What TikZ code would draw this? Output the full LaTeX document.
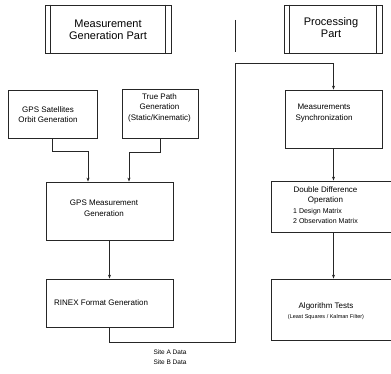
\documentclass[tikz,border=0pt]{standalone}
\usepackage{fontspec}
\setmainfont{Liberation Sans}
\usetikzlibrary{arrows.meta}
\begin{document}
\begin{tikzpicture}[x=1pt,y=-1pt,
  box/.style={draw=black!85, line width=0.8pt, inner sep=0pt, rectangle},
  txt/.style={font=\fontsize{8}{10.5}\selectfont, align=center, inner sep=0pt},
  ttl/.style={font=\fontsize{11}{12}\selectfont, align=center, inner sep=0pt},
  conn/.style={draw=black!85, line width=0.7pt},
  arr/.style={conn, -{Stealth[length=4pt,width=3pt]}}]
\useasboundingbox (0,0) rectangle (391,374);

% title boxes
\node[box, minimum width=126pt, minimum height=48pt] (t1) at (108,29) {};
\draw[conn] ([xshift=6pt]t1.north west) -- ([xshift=6pt]t1.south west);
\draw[conn] ([xshift=-6pt]t1.north east) -- ([xshift=-6pt]t1.south east);
\node[ttl] (t1t) at (108,30) {Measurement\\Generation Part};

\node[box, minimum width=98pt, minimum height=48pt] (t2) at (333,29) {};
\draw[conn] ([xshift=6pt]t2.north west) -- ([xshift=6pt]t2.south west);
\draw[conn] ([xshift=-6pt]t2.north east) -- ([xshift=-6pt]t2.south east);
\node[ttl] (t2t) at (331,28) {Processing\\Part};

% divider
\coordinate (d1) at (235,20);
\coordinate (d2) at (235,52);
\draw[conn] (d1) -- (d2);

% left column
\node[box, minimum width=89pt, minimum height=48pt] (gpss) at (52.5,114) {};
\node[txt] (gpsst) at (48,114.5) {GPS Satellites\\Orbit Generation};

\node[box, minimum width=76pt, minimum height=49pt] (truep) at (160,113.5) {};
\node[txt] (truept) at (159.5,107.5) {True Path\\Generation\\(Static/Kinematic)};

\node[box, minimum width=127pt, minimum height=58pt] (gpsm) at (109.5,211) {};
\node[txt] (gpsmt) at (104,208) {GPS Measurement\\Generation};

\node[box, minimum width=127pt, minimum height=48pt] (rinex) at (109.5,303) {};
\node[txt, anchor=west] (rinext) at (54,303) {RINEX Format Generation};

% right column
\node[box, minimum width=97pt, minimum height=58pt] (sync) at (333.5,119) {};
\node[txt] (synct) at (324,113) {Measurements\\Synchronization};

\node[box, minimum width=120pt, minimum height=51pt] (dd) at (331,206.5) {};
\node[txt, anchor=west] (ddt) at (293,206) {\begin{tabular}{@{}l@{}}
\multicolumn{1}{@{}c@{}}{\fontsize{8}{10}\selectfont Double Difference}\\
\multicolumn{1}{@{}c@{}}{\fontsize{8}{10}\selectfont Operation}\\
\fontsize{7}{10}\selectfont 1 Design Matrix\\
\fontsize{7}{10}\selectfont 2 Observation Matrix
\end{tabular}};

\node[box, minimum width=120pt, minimum height=61pt] (alg) at (331,309.5) {};
\node[txt] (algt) at (326,311) {Algorithm Tests\\[-1pt]{\fontsize{5.5}{7}\selectfont (Least Squares / Kalman Filter)}};

% site label
\node[txt, font=\fontsize{6.5}{9.5}\selectfont] (site) at (170,357) {Site A Data\\Site B Data};

% connectors
\draw[arr] (gpss.south) -- ++(0,13) -| ([xshift=-21.5pt]gpsm.north);
\draw[arr] (truep.south) -- ++(0,13.5) -| ([xshift=19.5pt]gpsm.north);
\draw[arr] (gpsm.south) -- (rinex.north);
\coordinate (c1) at (235,63);
\draw[arr] (rinex.south) -- ++(0,15) -| (c1) -| (sync.north);
\draw[arr] (sync.south) -- (sync.south |- dd.north);
\draw[arr] (sync.south |- dd.south) -- (sync.south |- alg.north);
\end{tikzpicture}
\end{document}
